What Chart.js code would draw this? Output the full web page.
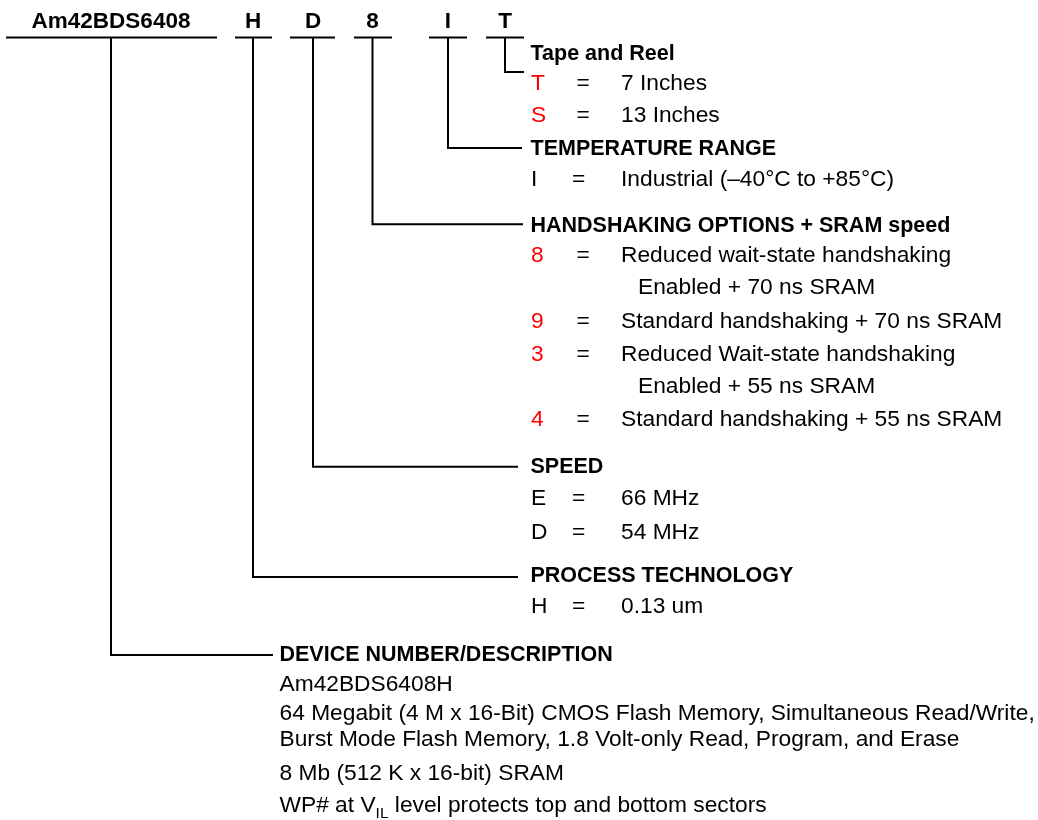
<!DOCTYPE html>
<html>
<head>
<meta charset="utf-8">
<script src="https://cdn.jsdelivr.net/npm/chart.js@4.4.1/dist/chart.umd.min.js"></script>
<style>
  html, body { margin: 0; padding: 0; background: #ffffff; }
  #wrap { width: 1038px; height: 820px; }
  canvas { display: block; }
</style>
</head>
<body>
<div id="wrap"><canvas id="c" width="1038" height="820"></canvas></div>
<script>
// ---------- DATA ----------
const segments = ['Am42BDS6408', 'H', 'D', '8', 'I', 'T'];
const sectionTitles = ['DEVICE NUMBER/DESCRIPTION', 'PROCESS TECHNOLOGY', 'SPEED',
  'HANDSHAKING OPTIONS + SRAM speed', 'TEMPERATURE RANGE', 'Tape and Reel'];

const tapeCodes = ['T', 'S'];
const tapeDesc = [['7 Inches'], ['13 Inches']];

const tempCodes = ['I'];
const tempDesc = [['Industrial (\u201340\u00B0C to +85\u00B0C)']];

const handshakeCodes = ['8', '9', '3', '4'];
const handshakeDesc = [
  ['Reduced wait-state handshaking', 'Enabled + 70 ns SRAM'],
  ['Standard handshaking + 70 ns SRAM'],
  ['Reduced Wait-state handshaking', 'Enabled + 55 ns SRAM'],
  ['Standard handshaking + 55 ns SRAM']
];

const speedCodes = ['E', 'D'];
const speedDesc = [['66 MHz'], ['54 MHz']];

const processCodes = ['H'];
const processDesc = [['0.13 um']];

const deviceLines = [
  'Am42BDS6408H',
  '64 Megabit (4 M x 16-Bit) CMOS Flash Memory, Simultaneous Read/Write,',
  'Burst Mode Flash Memory, 1.8 Volt-only Read, Program, and Erase',
  '8 Mb (512 K x 16-bit) SRAM',
  'WP# at V_{IL} level protects top and bottom sectors'
];

// ---------- LAYOUT (in scale units) ----------
const L = {
  topBaseline: 28,
  underlineY: 37.5,
  segX: [111, 253, 313, 372.5, 448, 505],
  underline: [[6, 217], [235, 272], [290, 335], [354, 392], [429, 467], [486, 524]],
  bendY: [655, 577, 466.7, 224.3, 148, 72],
  bendEnd: [273, 518, 518, 523, 522, 524],
  titleX: [279.5, 530.5, 530.5, 530.5, 530.5, 530.5],
  titleBaseline: [661, 582, 473, 232, 155, 60],
  codeX: 531,
  valX: 621,
  contX: 638,
  groups: [
    { codes: tapeCodes, desc: tapeDesc, rows: [[90], [122]], eqX: 576.4, red: true },
    { codes: tempCodes, desc: tempDesc, rows: [[186]], eqX: 572, red: false },
    { codes: handshakeCodes, desc: handshakeDesc, rows: [[262, 294], [328], [361, 393], [426]], eqX: 576.4, red: true },
    { codes: speedCodes, desc: speedDesc, rows: [[505], [539]], eqX: 572, red: false },
    { codes: processCodes, desc: processDesc, rows: [[613]], eqX: 572, red: false }
  ],
  deviceBaselines: [691, 720, 746, 780, 812]
};

const FONT = '"Liberation Sans", Arial, Helvetica, sans-serif';
const REG = '22.75px ' + FONT;
const RED = '#ff0000';
const BLACK = '#000000';

// ---------- line datasets (connectors) ----------
const datasets = [];
segments.forEach((s, i) => {
  datasets.push({
    label: s + ' underline',
    data: [{ x: L.underline[i][0], y: L.underlineY }, { x: L.underline[i][1], y: L.underlineY }]
  });
  datasets.push({
    label: s + ' connector',
    data: [{ x: L.segX[i], y: L.underlineY }, { x: L.segX[i], y: L.bendY[i] }, { x: L.bendEnd[i], y: L.bendY[i] }]
  });
});
datasets.forEach(d => {
  d.showLine = true;
  d.borderColor = BLACK;
  d.borderWidth = 2;
  d.pointRadius = 0;
  d.fill = false;
  d.tension = 0;
  d.borderCapStyle = 'butt';
  d.borderJoinStyle = 'miter';
});

// ---------- text plugin ----------
const textPlugin = {
  id: 'diagramText',
  afterDatasetsDraw(chart) {
    const ctx = chart.ctx;
    const xs = chart.scales.x, ys = chart.scales.y;
    const px = v => xs.getPixelForValue(v);
    const py = v => ys.getPixelForValue(v);
    ctx.save();
    ctx.textBaseline = 'alphabetic';

    // top part number segments
    ctx.font = 'bold 22.5px ' + FONT;
    ctx.fillStyle = BLACK;
    ctx.textAlign = 'center';
    segments.forEach((s, i) => ctx.fillText(s, px(L.segX[i]), py(L.topBaseline)));

    // section titles
    ctx.textAlign = 'left';
    ctx.font = 'bold 21.5px ' + FONT;
    sectionTitles.forEach((t, i) => ctx.fillText(t, px(L.titleX[i]), py(L.titleBaseline[i])));

    // option groups
    ctx.font = REG;
    L.groups.forEach(g => {
      g.codes.forEach((c, j) => {
        const rows = g.rows[j];
        ctx.fillStyle = g.red ? RED : BLACK;
        ctx.fillText(c, px(L.codeX), py(rows[0]));
        ctx.fillStyle = BLACK;
        ctx.fillText('=', px(g.eqX), py(rows[0]));
        g.desc[j].forEach((line, k) => {
          ctx.fillText(line, px(k === 0 ? L.valX : L.contX), py(rows[k]));
        });
      });
    });

    // device description lines
    ctx.fillStyle = BLACK;
    deviceLines.forEach((line, i) => {
      const y = py(L.deviceBaselines[i]);
      let x = px(L.titleX[0]);
      const parts = line.split(/(_\{[^}]*\})/);
      parts.forEach(p => {
        if (!p) return;
        if (p.startsWith('_{')) {
          const sub = p.slice(2, -1);
          ctx.font = '15.5px ' + FONT;
          ctx.fillText(sub, x, y + 6);
          x += ctx.measureText(sub).width;
        } else {
          ctx.font = REG;
          ctx.fillText(p, x, y);
          x += ctx.measureText(p).width;
        }
      });
    });
    ctx.restore();
  }
};

new Chart(document.getElementById('c'), {
  type: 'scatter',
  data: { datasets },
  options: {
    responsive: false,
    animation: false,
    devicePixelRatio: 1,
    layout: { padding: 0 },
    plugins: { legend: { display: false }, tooltip: { enabled: false }, title: { display: false } },
    scales: {
      x: { type: 'linear', min: 0, max: 1038, display: false },
      y: { type: 'linear', min: 0, max: 820, reverse: true, display: false }
    },
    elements: { line: { borderWidth: 2 } }
  },
  plugins: [textPlugin]
});
</script>
</body>
</html>
